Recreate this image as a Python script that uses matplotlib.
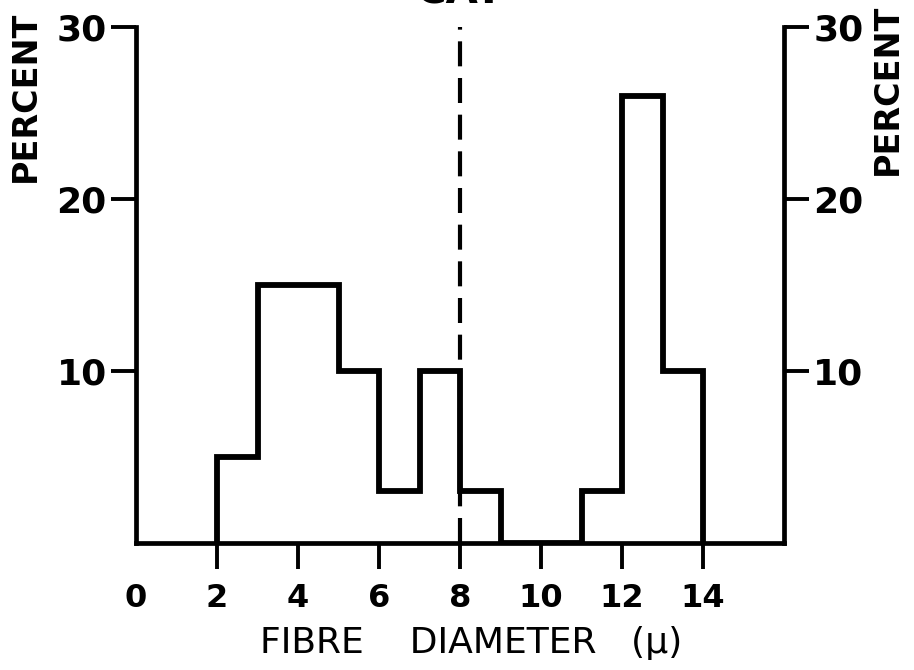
import numpy as np
import matplotlib.pyplot as plt

# histogram of fibre diameters (bin edges in microns, percent per bin)
edges = [2, 3, 5, 6, 7, 8, 9, 11, 12, 13, 14]
percent = [5, 15, 10, 3, 10, 3, 0, 3, 26, 10]
xticks = [0, 2, 4, 6, 8, 10, 12, 14]
yticks = [10, 20, 30]
split_at = 8

plt.rcParams['font.family'] = 'DejaVu Sans'

fig = plt.figure(figsize=(9.14, 6.7), dpi=100)
ax = fig.add_axes([0.1488, 0.1896, 0.7090, 0.7701])

ax.stairs(percent, edges, baseline=0, color='k', lw=4.2)
ax.plot([split_at, split_at], [0, 30], color='k', lw=3, ls=(0, (6, 2.8)))

ax.set_xlim(0, 16)
ax.set_ylim(0, 30)

for s in ['left', 'right', 'bottom']:
    ax.spines[s].set_linewidth(3.4)
ax.spines['top'].set_visible(False)

ax.set_xticks(xticks)
ax.set_xticklabels([str(t) for t in xticks], fontsize=23, fontweight='bold')
ax.xaxis.get_major_ticks()[0].tick1line.set_visible(False)
ax.tick_params(axis='x', direction='out', length=19, width=2.8, pad=10)

ax.set_yticks(yticks)
ax.set_yticklabels([str(t) for t in yticks], fontsize=26, fontweight='bold')
ax.tick_params(axis='y', direction='out', length=18, width=2.8, pad=3,
               left=True, right=True, labelleft=True, labelright=True)

fig.text(471 / 914, 1 - 653 / 670, 'FIBRE    DIAMETER   (\u03bc)', ha='center',
         va='baseline', fontsize=26)

fig.text(25 / 914, 1 - 182 / 670, 'PERCENT', rotation=90, ha='center', va='bottom',
         fontsize=24, fontweight='bold')
fig.text(887 / 914, 1 - 175 / 670, 'PERCENT', rotation=90, ha='center', va='bottom',
         fontsize=24, fontweight='bold')
fig.text(460 / 914, 1 - 3 / 670, 'CAT', ha='center', va='baseline',
         fontsize=30, fontweight='bold')

fig.savefig('out.png', dpi=100)
